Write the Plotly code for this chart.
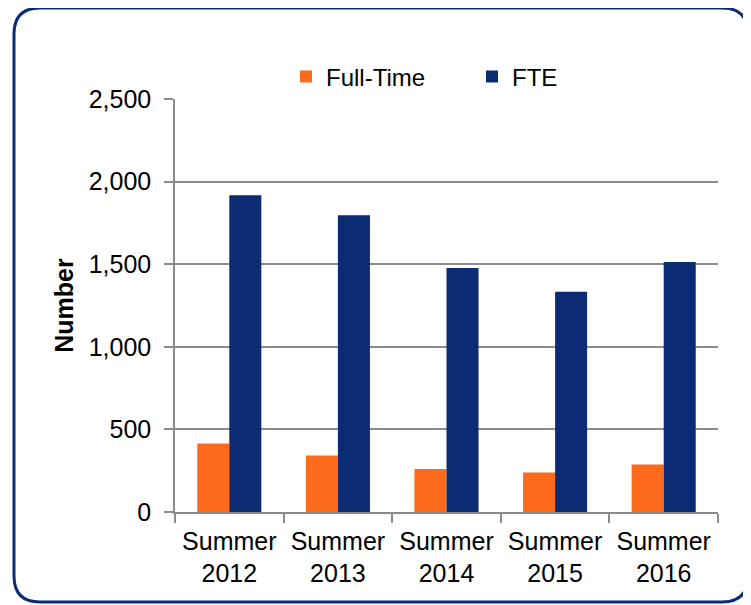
import plotly.graph_objects as go

categories = ["Summer<br>2012", "Summer<br>2013", "Summer<br>2014", "Summer<br>2015", "Summer<br>2016"]
full_time = [414, 342, 261, 239, 287]
fte = [1917, 1796, 1477, 1333, 1513]
y_ticks = [0, 500, 1000, 1500, 2000, 2500]
y_tick_labels = ["0", "500", "1,000", "1,500", "2,000", "2,500"]

ORANGE = "#FD6A1C"
NAVY = "#0B2C72"
GRID = "#8C8C8C"
FONT = "Liberation Sans, Arial, sans-serif"

fig = go.Figure()
fig.add_trace(go.Bar(name="Full-Time", x=categories, y=full_time, marker=dict(color=ORANGE, line=dict(width=0))))
fig.add_trace(go.Bar(name="FTE", x=categories, y=fte, marker=dict(color=NAVY, line=dict(width=0))))

# page has an 8px body margin; work in page pixels and shift
OFF = 8
W, H = 751 - OFF, 605 - OFF
L, R, T, B = 175 - OFF, 718 - OFF, 99 - OFF, 512 - OFF
pw, ph = R - L, B - T

def px(x):
    return (x - OFF - L) / pw

def py(y):
    return (B - (y - OFF)) / ph

# rounded border
x0, x1, y0, y1, r = 14, 748, 8, 602, 26
path = (
    f"M {px(x0 + r)} {py(y0)} L {px(x1 - r)} {py(y0)} "
    f"Q {px(x1)} {py(y0)} {px(x1)} {py(y0 + r)} "
    f"L {px(x1)} {py(y1 - r)} "
    f"Q {px(x1)} {py(y1)} {px(x1 - r)} {py(y1)} "
    f"L {px(x0 + r)} {py(y1)} "
    f"Q {px(x0)} {py(y1)} {px(x0)} {py(y1 - r)} "
    f"L {px(x0)} {py(y0 + r)} "
    f"Q {px(x0)} {py(y0)} {px(x0 + r)} {py(y0)} Z"
)

fig.update_layout(
    width=W, height=H,
    margin=dict(l=L, r=W - R, t=T, b=H - B),
    paper_bgcolor="white", plot_bgcolor="white",
    font=dict(family=FONT, color="black", size=25),
    barmode="group", bargap=0.41, bargroupgap=0,
    showlegend=True,
    legend=dict(orientation="h", x=px(286), xanchor="left", y=py(77), yanchor="middle",
                font=dict(size=24, family=FONT), bgcolor="rgba(0,0,0,0)",
                entrywidth=141, entrywidthmode="pixels", itemclick=False),
    shapes=[dict(type="path", path=path, xref="paper", yref="paper",
                 line=dict(color="#0B2C72", width=3), fillcolor="rgba(0,0,0,0)", layer="above")],
)
fig.update_xaxes(showline=True, linecolor=GRID, linewidth=1.5,
                 ticks="outside", tickson="boundaries", ticklen=9, tickcolor=GRID, tickwidth=1.5,
                 ticklabelstandoff=6,
                 tickfont=dict(size=25, family=FONT), showgrid=False)
fig.update_yaxes(range=[0, 2500], tickvals=y_ticks, ticktext=y_tick_labels,
                 showline=True, linecolor=GRID, linewidth=1.5,
                 ticks="outside", ticklen=9, tickcolor=GRID, tickwidth=1.5,
                 ticklabelstandoff=8,
                 showgrid=True, gridcolor=GRID, gridwidth=1.5, zeroline=False,
                 tickfont=dict(size=25, family=FONT),
                 title=dict(text="<b>Number</b>", font=dict(size=25, family=FONT), standoff=8))

fig.write_html("out.html")
